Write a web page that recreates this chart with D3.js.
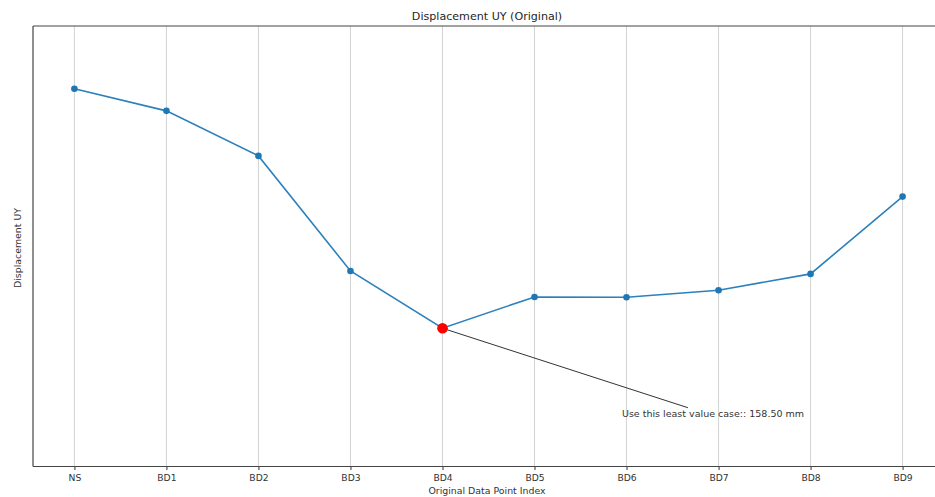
<!DOCTYPE html>
<html>
<head>
<meta charset="utf-8">
<script src="https://cdn.jsdelivr.net/npm/d3@7"></script>
<style>
  body { margin: 0; background: white; }
  text { font-family: "DejaVu Sans", sans-serif; fill: #262626; }
</style>
</head>
<body>
<svg></svg>
<script>

// data
var categories = ["NS", "BD1", "BD2", "BD3", "BD4", "BD5", "BD6", "BD7", "BD8", "BD9"];
var displacement = [433.0, 407.7, 356.1, 224.2, 158.5, 194.4, 194.1, 202.1, 220.8, 309.4];
var minIndex = 4;
var noteText = "Use this least value case:: 158.50 mm";
var noteAt = [5.95, 60];      // where the note sits (index, value)
var noteArrowEnd = [6.667, 67.4];

var width = 935, height = 497;
var margin = { top: 26, right: -9, bottom: 30.5, left: 33 };

var svg = d3.select("svg")
    .attr("width", width)
    .attr("height", height);

var xScale = d3.scaleLinear()
    .domain([-0.45, categories.length - 1 + 0.45])
    .range([margin.left, width - margin.right]);

var yScale = d3.scaleLinear()
    .domain([0, 505])
    .range([height - margin.bottom, margin.top]);

// vertical grid lines
svg.append("g")
    .selectAll("line")
    .data(categories)
    .enter().append("line")
    .attr("x1", function(d, i) { return xScale(i); })
    .attr("x2", function(d, i) { return xScale(i); })
    .attr("y1", yScale(505))
    .attr("y2", yScale(0))
    .style("stroke", "#d3d3d3")
    .style("stroke-width", 1);

// x axis
var x_axis = d3.axisBottom(xScale)
    .tickValues(d3.range(categories.length))
    .tickFormat(function(i) { return categories[i]; })
    .tickSize(3.5)
    .tickPadding(4);

var gx = svg.append("g")
    .attr("transform", "translate(0," + yScale(0) + ")")
    .call(x_axis);
gx.select(".domain").remove();
gx.selectAll("line").style("stroke", "#333");
gx.selectAll("text")
    .style("font-size", "9.2px")
    .style("font-family", "DejaVu Sans")
    .style("fill", "#333");

// spines
svg.append("line")
    .attr("x1", margin.left).attr("x2", width)
    .attr("y1", yScale(0)).attr("y2", yScale(0))
    .style("stroke", "#444").style("stroke-width", 1.2);
svg.append("line")
    .attr("x1", margin.left).attr("x2", width)
    .attr("y1", yScale(505)).attr("y2", yScale(505))
    .style("stroke", "#444").style("stroke-width", 1.2);
svg.append("line")
    .attr("x1", margin.left).attr("x2", margin.left)
    .attr("y1", yScale(0)).attr("y2", yScale(505))
    .style("stroke", "#444").style("stroke-width", 1.2);

// the line
var line = d3.line()
    .x(function(d, i) { return xScale(i); })
    .y(function(d) { return yScale(d); });

svg.append("path")
    .datum(displacement)
    .attr("d", line)
    .attr("fill", "none")
    .style("stroke", "#2c80bc")
    .style("stroke-width", 1.6);

svg.append("g")
    .selectAll("circle")
    .data(displacement)
    .enter().append("circle")
    .attr("cx", function(d, i) { return xScale(i); })
    .attr("cy", function(d) { return yScale(d); })
    .attr("r", 3.3)
    .attr("fill", "#1f77b4");

// annotation arrow
svg.append("defs").append("marker")
    .attr("id", "head")
    .attr("viewBox", "0 -5 10 10")
    .attr("refX", 10).attr("refY", 0)
    .attr("markerWidth", 5).attr("markerHeight", 5)
    .attr("orient", "auto")
    .append("path")
    .attr("d", "M0,-4L10,0L0,4Z")
    .attr("fill", "#222");

svg.append("line")
    .attr("x1", xScale(noteArrowEnd[0]))
    .attr("y1", yScale(noteArrowEnd[1]))
    .attr("x2", xScale(minIndex))
    .attr("y2", yScale(displacement[minIndex]))
    .style("stroke", "#333")
    .style("stroke-width", 1)
    .attr("marker-end", "url(#head)");

// min point in red
svg.append("circle")
    .attr("cx", xScale(minIndex))
    .attr("cy", yScale(displacement[minIndex]))
    .attr("r", 5.3)
    .attr("fill", "red");

svg.append("text")
    .attr("x", xScale(noteAt[0]))
    .attr("y", yScale(noteAt[1]))
    .attr("dy", "0.35em")
    .style("font-size", "9.5px")
    .style("fill", "#333")
    .text(noteText);

// titles
svg.append("text")
    .attr("x", 487)
    .attr("y", 20)
    .attr("text-anchor", "middle")
    .style("font-size", "11.1px")
    .text("Displacement UY (Original)");

svg.append("text")
    .attr("x", 487)
    .attr("y", 494)
    .attr("text-anchor", "middle")
    .style("font-size", "9.4px")
    .style("fill", "#333")
    .text("Original Data Point Index");

svg.append("text")
    .attr("transform", "translate(21," + 248 + ") rotate(-90)")
    .attr("text-anchor", "middle")
    .style("font-size", "9.4px")
    .style("fill", "#333")
    .text("Displacement UY");

</script>
</body>
</html>
